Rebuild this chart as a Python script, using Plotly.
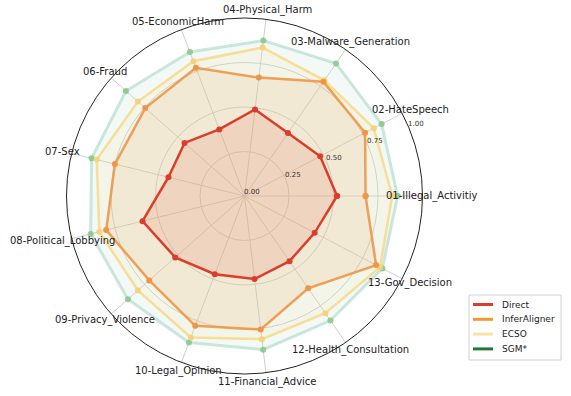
import math
import plotly.graph_objects as go

categories = [
    "01-Illegal_Activitiy", "02-HateSpeech", "03-Malware_Generation", "04-Physical_Harm",
    "05-EconomicHarm", "06-Fraud", "07-Sex", "08-Political_Lobbying",
    "09-Privacy_Violence", "10-Legal_Opinion", "11-Financial_Advice",
    "12-Health_Consultation", "13-Gov_Decision",
]

direct = [0.52, 0.48, 0.43, 0.49, 0.40, 0.45, 0.44, 0.59, 0.52, 0.47, 0.47, 0.445, 0.445]
infer_aligner = [0.68, 0.765, 0.78, 0.67, 0.77, 0.745, 0.75, 0.80, 0.715, 0.78, 0.755, 0.63, 0.835]
ecso = [0.83, 0.82, 0.79, 0.84, 0.81, 0.80, 0.855, 0.84, 0.80, 0.85, 0.81, 0.80, 0.86]
sgm = [0.86, 0.87, 0.905, 0.88, 0.865, 0.89, 0.885, 0.89, 0.875, 0.88, 0.87, 0.85, 0.875]

radial_ticks = [0, 0.25, 0.5, 0.75, 1.0]
radial_ticktext = ["0.00", "0.25", "0.50", "0.75", "1.00"]

W, H = 571, 396
# polar plot placement (pixels)
cx, cy, R = 244.5, 196, 178
rlabel_angle = 22.5

series = [
    # name, values, line colour, marker colour, fill colour, legend colour, width
    ("SGM*", sgm, "rgba(175,218,205,0.65)", "rgba(140,200,140,0.9)",
     "rgba(175,220,200,0.16)", "#1f7a3a", 3),
    ("ECSO", ecso, "rgba(248,215,130,0.8)", "rgba(245,210,120,0.95)",
     "rgba(250,225,150,0.14)", "#fbe3a6", 2.5),
    ("InferAligner", infer_aligner, "rgba(238,150,70,0.9)", "rgba(238,150,70,1)",
     "rgba(235,170,100,0.15)", "#ef9a2a", 2.5),
    ("Direct", direct, "#dc3d2b", "#dc3d2b",
     "rgba(230,120,90,0.17)", "#dc3d2b", 2.5),
]

fig = go.Figure()
for name, vals, lc, mc, fc, _, lw in series:
    fig.add_trace(go.Scatterpolar(
        r=vals + vals[:1],
        theta=categories + categories[:1],
        mode="lines+markers",
        fill="toself",
        fillcolor=fc,
        line=dict(color=lc, width=lw),
        marker=dict(color=mc, size=6),
        name=name,
        showlegend=False,
    ))

# category labels, centred just beyond the outer circle like matplotlib
n = len(categories)
for i, lab in enumerate(categories):
    ang = 2 * math.pi * i / n
    fig.add_annotation(
        x=(cx + 187 * math.cos(ang)) / W,
        y=(H - cy + 187 * math.sin(ang)) / H,
        xref="paper", yref="paper", text=lab, showarrow=False,
        xanchor="center", yanchor="middle",
        font=dict(size=10, color="#222222"),
    )

# radial tick labels, horizontal and centred on the 22.5 deg spoke
a = math.radians(rlabel_angle)
for v, t in zip(radial_ticks, radial_ticktext):
    fig.add_annotation(
        x=(cx + v * R * math.cos(a) + 7.5) / W,
        y=(H - cy + v * R * math.sin(a) + 4) / H,
        xref="paper", yref="paper", text=t, showarrow=False,
        xanchor="center", yanchor="middle",
        font=dict(size=7, color="#333333"),
    )

# compact matplotlib-style legend box
lx0, ly0, lx1, ly1 = 469, 295, 561, 360
fig.add_shape(type="rect", xref="paper", yref="paper",
              x0=lx0 / W, x1=lx1 / W, y0=1 - ly1 / H, y1=1 - ly0 / H,
              line=dict(color="#d0d0d0", width=1), fillcolor="white")
for k, (name, _, _, _, _, legc, _) in enumerate(reversed(series)):
    yy = 304.5 + k * 14.8
    fig.add_shape(type="line", xref="paper", yref="paper",
                  x0=473 / W, x1=493 / W, y0=1 - yy / H, y1=1 - yy / H,
                  line=dict(color=legc, width=3))
    fig.add_annotation(x=500 / W, y=1 - yy / H, xref="paper", yref="paper",
                       text=name, showarrow=False, xanchor="left", yanchor="middle",
                       font=dict(size=9, color="#222222"))

fig.update_layout(
    width=W, height=H,
    margin=dict(l=0, r=0, t=0, b=0),
    paper_bgcolor="white",
    showlegend=False,
    font=dict(family="DejaVu Sans", color="#222222"),
    polar=dict(
        domain=dict(x=[(cx - R) / W, (cx + R) / W],
                    y=[(H - cy - R) / H, (H - cy + R) / H]),
        bgcolor="white",
        radialaxis=dict(
            range=[0, 1], tickvals=radial_ticks,
            angle=rlabel_angle, showline=False, ticks="",
            showticklabels=False,
            gridcolor="#cfcfcf", gridwidth=1,
        ),
        angularaxis=dict(
            direction="counterclockwise", rotation=0,
            showticklabels=False, ticks="",
            showline=True, linecolor="#222222", linewidth=1,
            gridcolor="#cfcfcf", gridwidth=1,
        ),
    ),
)

# drop the browser's default body margin so the figure sits at the page origin
fig.write_html("out.html", config={"displayModeBar": False},
               post_script="document.body.style.margin='0';")
